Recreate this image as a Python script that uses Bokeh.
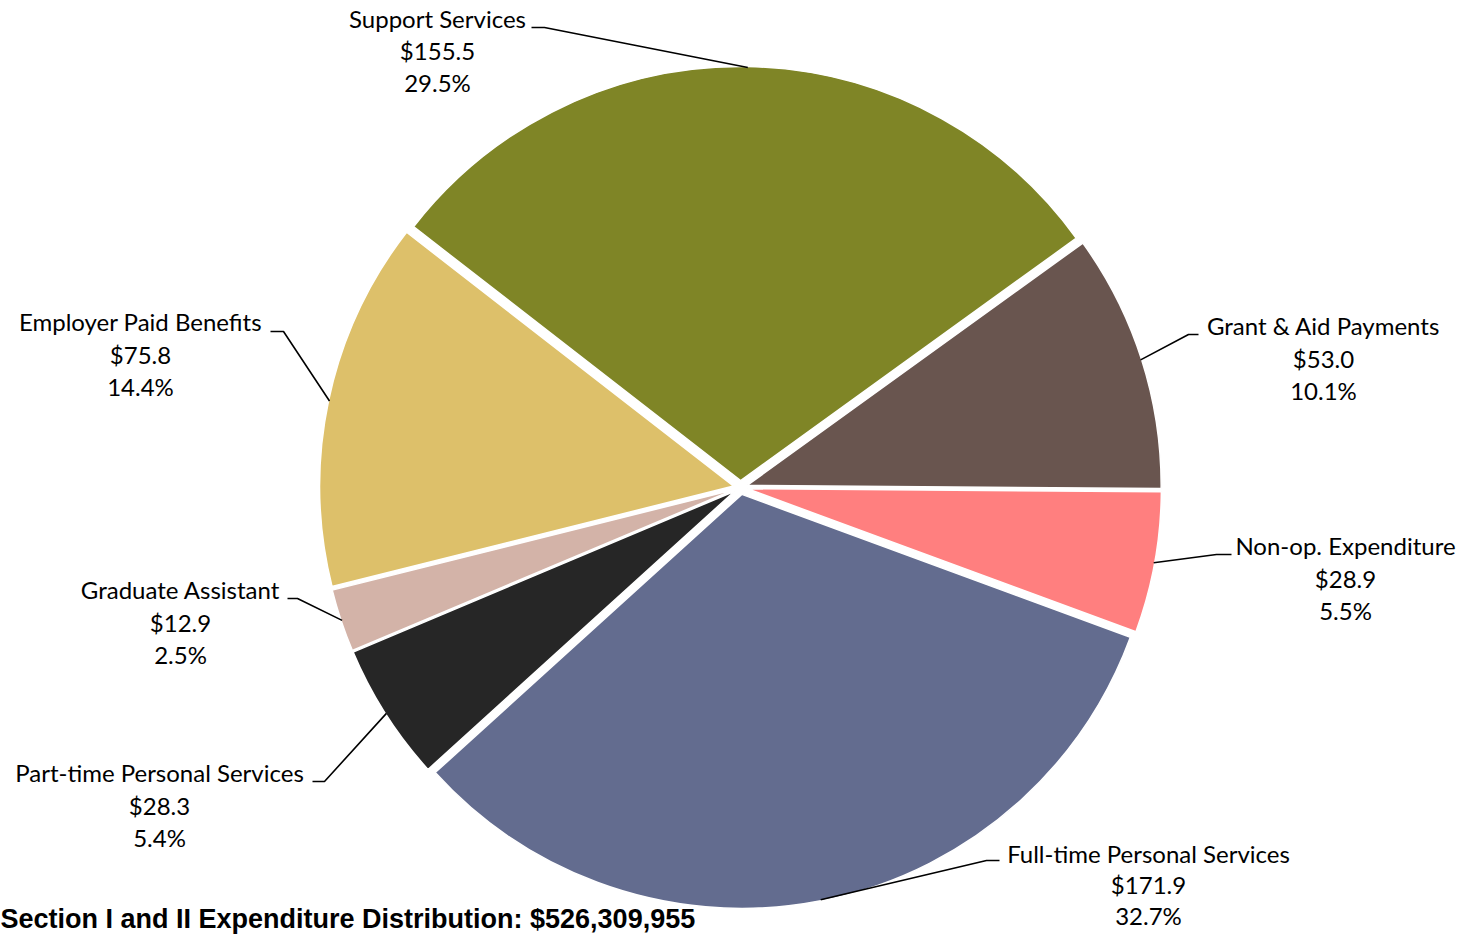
import math
from bokeh.plotting import figure
from bokeh.models import Range1d, ColumnDataSource
from bokeh.core.properties import value
from bokeh.embed import file_html
from bokeh.resources import INLINE

# ---------------- data ----------------
categories = ["Full-time Personal Services", "Part-time Personal Services",
              "Graduate Assistant", "Employer Paid Benefits", "Support Services",
              "Grant & Aid Payments", "Non-op. Expenditure"]
amounts = [171.9, 28.3, 12.9, 75.8, 155.5, 53.0, 28.9]   # $ millions
title_text = "Section I and II Expenditure Distribution: $526,309,955"

# ---------------- style / layout ----------------
colors = ["#636C8F", "#262626", "#D3B3A8", "#DDC06A", "#7F8526", "#69554F", "#FF7F7F"]
W, H = 1457, 935              # figure size (page has 8px margin)
CX, CY = 740, 487             # pie centre (px from top-left)
R = 414                       # pie radius
EXPLODE = 7                   # slice explosion
FIRST_ANGLE = -20.2           # degrees (math convention), slices run clockwise
LINE_GAP = [31, 32.5, 32.5, 32.5, 32, 32.5, 32.5]
# label: centre x, first-line vertical centre y (px from top-left)
label_anchor = [(1148, 853), (159, 772), (180, 589), (140, 321),
                (437, 18), (1323, 325), (1345, 545)]
# leader: text-side end, elbow (px from top-left)
leader_elbow = [((999, 860), (986, 860)), ((312, 781), (324, 781)),
                ((287, 598), (297, 598)), ((270, 331), (283, 331)),
                ((531, 27), (544, 27)), ((1198, 334), (1188, 334)),
                ((1231, 554), (1216, 554))]


def yu(y):
    return H - y


p = figure(width=W, height=H, x_range=Range1d(0, W), y_range=Range1d(0, H),
           output_backend="svg", toolbar_location=None, min_border=0,
           x_axis_type=None, y_axis_type=None)
p.grid.visible = False
p.outline_line_color = None
p.background_fill_color = "white"
p.border_fill_color = "white"

total = sum(amounts)
xs_c, ys_c, starts, ends, mids = [], [], [], [], []
a = FIRST_ANGLE
for v in amounts:
    span = v / total * 360.0
    hi, lo = a, a - span
    mid = math.radians((hi + lo) / 2)
    xs_c.append(CX + EXPLODE * math.cos(mid))
    ys_c.append(yu(CY) + EXPLODE * math.sin(mid))
    starts.append(math.radians(lo))
    ends.append(math.radians(hi))
    mids.append(mid)
    a = lo

src = ColumnDataSource(dict(x=xs_c, y=ys_c, start=starts, end=ends, color=colors, name=categories))
p.wedge(x="x", y="y", radius=R, start_angle="start", end_angle="end",
        direction="anticlock", fill_color="color", line_color="white", line_width=1.5,
        source=src)

# leader lines
lx, ly = [], []
for i, mid in enumerate(mids):
    (tx, ty), (ex, ey) = leader_elbow[i]
    px = xs_c[i] + (R - 1) * math.cos(mid)
    py = ys_c[i] + (R - 1) * math.sin(mid)
    lx.append([tx, ex, px])
    ly.append([yu(ty), yu(ey), py])
p.multi_line(xs=lx, ys=ly, line_color="black", line_width=1.6)

# labels
tx_, ty_, tt_ = [], [], []
for i, name in enumerate(categories):
    cx, cy = label_anchor[i]
    lines = [name, f"${amounts[i]:.1f}", f"{amounts[i] / total * 100:.1f}%"]
    for k, t in enumerate(lines):
        tx_.append(cx)
        ty_.append(yu(cy + k * LINE_GAP[i]))
        tt_.append(t)
p.text(x=tx_, y=ty_, text=tt_, text_align="center", text_baseline="middle",
       text_font=value("Lato"), text_font_size=value("24px"), text_color="black")

# title at the bottom left
p.text(x=[0], y=[yu(918)], text=[title_text], text_align="left",
       text_baseline="middle", text_font=value("Liberation Sans"),
       text_font_style="bold", text_font_size=value("27px"), text_color="black")

open("out.html", "w").write(file_html(p, INLINE))
